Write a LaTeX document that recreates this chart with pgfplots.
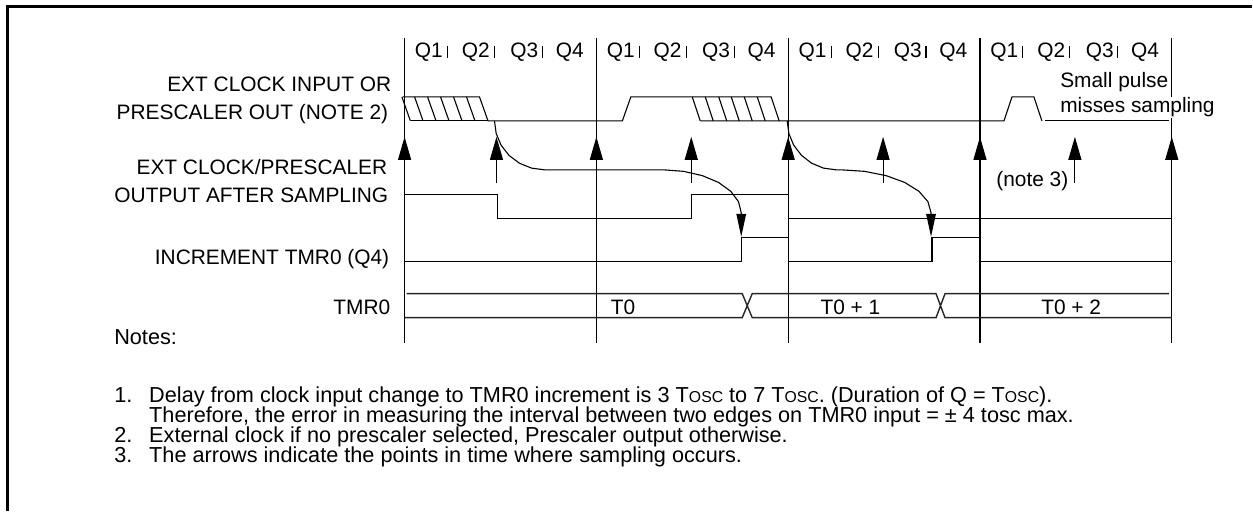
\documentclass[border=0pt]{standalone}
\usepackage{pgfplots}
\pgfplotsset{compat=1.18}
\usepackage{fontspec}
\setmainfont{Liberation Sans}
\usetikzlibrary{arrows.meta}
\newcommand\lf{\fontsize{10.45}{12.5}\selectfont}
\newcommand\nf{\fontsize{10.85}{13}\selectfont}
\newcommand\tosc{T{\fontsize{7.9}{9}\selectfont OSC}}
\tikzset{
  w/.style={black, line width=0.55pt, mark=none},
  bus/.style={black!85, line width=0.7pt, mark=none},
  sa/.style={-{Triangle[length=11.5pt,width=6.5pt]}},
  ca/.style={-{Triangle[length=11.5pt,width=4.8pt]}},
  lbl/.style={font=\lf, inner sep=0pt},
  nlbl/.style={font=\nf, inner sep=0pt, anchor=base west}}
\begin{document}
\begin{tikzpicture}
\begin{axis}[hide axis, scale only axis, width=626.5pt, height=256pt,
  xmin=0, xmax=1253, ymin=0, ymax=512, y dir=reverse, clip=false,
  unbounded coords=jump]
\addplot[draw=none] coordinates {(0,0) (1253,512)};
% frame
\addplot[black, line width=1.3pt] coordinates {(7.5,512) (7.5,6.5) (1253,6.5)};
% cycle lines
\addplot[w] table[row sep=\\] {x y\\ 405 38\\ 405 343\\ nan nan\\ 597 38\\ 597 343\\ nan nan\\ 789 38\\ 789 343\\ nan nan\\ 981 38\\ 981 343\\ nan nan\\ 1173 38\\ 1173 343\\};
% Q separators
\addplot[w] table[row sep=\\] {x y\\
448 46.5\\ 448 58\\ nan nan\\ 495 46.5\\ 495 58\\ nan nan\\ 543 46.5\\ 543 58\\ nan nan\\
640 46.5\\ 640 58\\ nan nan\\ 687 46.5\\ 687 58\\ nan nan\\ 735 46.5\\ 735 58\\ nan nan\\
832 46.5\\ 832 58\\ nan nan\\ 879 46.5\\ 879 58\\ nan nan\\ 927 46.5\\ 927 58\\ nan nan\\
1024 46.5\\ 1024 58\\ nan nan\\ 1071 46.5\\ 1071 58\\ nan nan\\ 1119 46.5\\ 1119 58\\};
% Row 1: ext clock input
\addplot[w] coordinates {(403,97) (480,97) (488.5,121) (623,121) (631.5,97) (772,97) (780,121)};
\addplot[w] coordinates {(411,121) (488.5,121)};
\addplot[w] coordinates {(701,121) (1005,121) (1013,97) (1035,97) (1043,121)};
\addplot[w] coordinates {(1046,121) (1170,121)};
% hatching
\addplot[w] table[row sep=\\] {x y\\
402.3 97\\ 410.8 121\\ nan nan\\ 415 97\\ 423.5 121\\ nan nan\\ 428 97\\ 436.5 121\\ nan nan\\
441 97\\ 449.5 121\\ nan nan\\ 454 97\\ 462.5 121\\ nan nan\\ 467 97\\ 475.5 121\\ nan nan\\
693 97\\ 701 121\\ nan nan\\ 706 97\\ 714 121\\ nan nan\\ 719.5 97\\ 727.5 121\\ nan nan\\
732 97\\ 740 121\\ nan nan\\ 745 97\\ 753 121\\ nan nan\\ 758 97\\ 766 121\\};
% Row 2: after sampling
\addplot[w] coordinates {(405,195) (498,195) (498,219) (692,219) (692,195) (789,195) (789,219) (1173,219)};
% Row 3: increment
\addplot[w] coordinates {(405,262) (742,262) (742,238) (789,238) (789,262) (933,262) (933,238) (981,238) (981,262) (1173,262)};
% Row 4: TMR0 bus
\addplot[bus] table[row sep=\\] {x y\\
407 294\\ 743 294\\ 753 318\\ 937 318\\ 946 294\\ 1170 294\\ nan nan\\
405 318\\ 743 318\\ 753 294\\ 937 294\\ 946 318\\ 1173 318\\};
% sampling arrows
\addplot[w, sa] coordinates {(405,160) (405,137)};
\addplot[w, sa] coordinates {(597,160) (597,137)};
\addplot[w, sa] coordinates {(789,160) (789,137)};
\addplot[w, sa] coordinates {(981,160) (981,137)};
\addplot[w, sa] coordinates {(1173,160) (1173,137)};
\addplot[w, sa] coordinates {(497,183) (497,137)};
\addplot[w, sa] coordinates {(692,183) (692,137)};
\addplot[w, sa] coordinates {(884,183) (884,137)};
\addplot[w, sa] coordinates {(1076,183) (1076,137)};
% causal curves
\addplot[w, ca] coordinates {(495,121) (496.7,133.7) (501.7,145.5) (509.6,155.6) (520,163.4) (532.1,168.3) (545,170) (664,170) (684.2,171.5) (703,175.8) (719.2,182.6) (731.5,191.5) (739.3,201.9) (742,213) (742,237)};
\addplot[w, ca] coordinates {(788,121) (789.7,133.7) (794.6,145.5) (802.4,155.6) (812.5,163.4) (824.3,168.3) (837,170) (842,170) (865.3,171.5) (887,175.8) (905.6,182.6) (919.9,191.5) (928.9,201.9) (932,213) (932,237)};
% Q labels
\node[lbl, anchor=base west] at (axis cs:415,58) {Q1};
\node[lbl, anchor=base west] at (axis cs:462,58) {Q2};
\node[lbl, anchor=base west] at (axis cs:510.5,58) {Q3};
\node[lbl, anchor=base west] at (axis cs:556,58) {Q4};
\node[lbl, anchor=base west] at (axis cs:607,58) {Q1};
\node[lbl, anchor=base west] at (axis cs:654,58) {Q2};
\node[lbl, anchor=base west] at (axis cs:702.5,58) {Q3};
\node[lbl, anchor=base west] at (axis cs:748,58) {Q4};
\node[lbl, anchor=base west] at (axis cs:799,58) {Q1};
\node[lbl, anchor=base west] at (axis cs:846,58) {Q2};
\node[lbl, anchor=base west] at (axis cs:894.5,58) {Q3};
\node[lbl, anchor=base west] at (axis cs:940,58) {Q4};
\node[lbl, anchor=base west] at (axis cs:991,58) {Q1};
\node[lbl, anchor=base west] at (axis cs:1038,58) {Q2};
\node[lbl, anchor=base west] at (axis cs:1086.5,58) {Q3};
\node[lbl, anchor=base west] at (axis cs:1132,58) {Q4};
% row labels
\node[lbl, anchor=base east] at (axis cs:392,92) {EXT CLOCK INPUT OR};
\node[lbl, anchor=base east] at (axis cs:389,120) {PRESCALER OUT (NOTE 2)};
\node[lbl, anchor=base east] at (axis cs:388,175) {EXT CLOCK/PRESCALER};
\node[lbl, anchor=base east] at (axis cs:389,203) {OUTPUT AFTER SAMPLING};
\node[lbl, anchor=base east] at (axis cs:390,265) {INCREMENT TMR0 (Q4)};
\node[lbl, anchor=base east] at (axis cs:391,315) {TMR0};
% bus values
\node[lbl, anchor=base west] at (axis cs:611,315) {T0};
\node[lbl, anchor=base west] at (axis cs:821,315) {T0 + 1};
\node[lbl, anchor=base west] at (axis cs:1042,315) {T0 + 2};
% annotations
\node[lbl, anchor=base west] at (axis cs:1061,88) {Small pulse};
\node[lbl, anchor=base west, fill=white, inner ysep=0.3pt] at (axis cs:1061,113) {misses sampling};
\node[lbl, anchor=base west] at (axis cs:997,187) {(note 3)};
% notes
\node[nlbl] at (axis cs:114,345) {Notes:};
\node[nlbl] at (axis cs:114,403) {1.};
\node[nlbl] at (axis cs:149,403) {Delay from clock input change to TMR0 increment is 3 \tosc{} to 7 \tosc. (Duration of Q = \tosc).};
\node[nlbl] at (axis cs:149,423) {Therefore, the error in measuring the interval between two edges on TMR0 input = ± 4 tosc max.};
\node[nlbl] at (axis cs:114,443) {2.};
\node[nlbl] at (axis cs:149,443) {External clock if no prescaler selected, Prescaler output otherwise.};
\node[nlbl] at (axis cs:114,463) {3.};
\node[nlbl] at (axis cs:149,463) {The arrows indicate the points in time where sampling occurs.};
\end{axis}
\end{tikzpicture}
\end{document}
